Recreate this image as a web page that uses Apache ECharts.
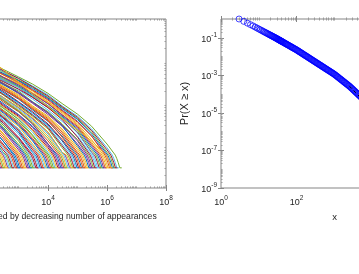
<!DOCTYPE html>
<html><head><meta charset="utf-8">
<script src="https://cdn.jsdelivr.net/npm/echarts@6/dist/echarts.min.js"></script>
<style>html,body{margin:0;padding:0;background:#fff}#c{width:359px;height:274px}</style>
</head><body><div id="c"></div>
<script>
// ---------- Left panel: rank / number-of-appearances curves ----------
const leftXName = 'Hashtags ordered by decreasing number of appearances';
const rightXName = 'x';
const rightYName = 'Pr(X \u2265 x)';
const rankGrid = [10, 30, 100, 300, 1e3, 3e3, 1e4, 3e4, 1e5, 3e5, 1e6, 3e6];
const plateauLevels = [6, 5, 4, 3];
// counts of each curve at rankGrid (starting at rank 10)
const curveCounts = [
 [52,24,9],[56,30,11],[60,33,14],[75,37,17],[79,43,21,7],[86,50,26,9],
 [104,55,28,11],[110,64,33,13],[131,70,38,17],[138,80,44,20,7],[162,88,49,25,9],
 [170,101,57,28,11],[200,110,62,34,14],[210,128,70,38,16],[248,140,78,45,21,7],
 [258,160,88,49,25,9],[295,172,101,55,29,11],[300,197,110,64,33,14],[350,212,127,70,38,17],
 [355,245,140,80,43,21,7],[410,258,160,88,50,24,9],[420,292,172,101,55,29,11],
 [480,305,197,110,64,33,13],[490,345,212,127,70,38,17],[565,360,243,140,80,44,21,7],
 [575,405,260,160,88,50,25,9],[660,420,292,172,101,55,29,11],[680,475,305,197,110,64,33,14],
 [775,495,345,212,127,70,38,17],[800,560,360,243,140,80,44,21,7],[910,580,405,260,160,88,50,25,9],
 [940,655,420,292,172,101,55,29,11],[1070,680,475,305,197,110,64,33,14],[1100,770,495,345,212,127,70,38,17],
 [1255,800,560,360,243,140,80,44,21,7],[1300,905,580,405,260,160,88,50,25,9],
 [1470,940,655,420,292,172,101,55,29,11],[1530,1060,680,475,305,197,110,64,33,14],
 [1730,1100,770,495,345,212,127,70,38,17],[1790,1250,800,560,360,243,140,80,44,21,7],
 [2030,1300,905,580,405,260,160,88,50,25,9],
 [2400,1500,930,600,390,250,150,84,47,23,8],[1400,1000,740,520,350,228,134,76,42,19],
 [1700,1120,740,480,320,205,120,67,36,17],[1300,900,620,420,290,180,106,60,31,12],
 [1500,980,640,420,275,170,98,53,27,10],[1100,800,560,380,250,150,86,47,23,8],
 [1250,820,540,360,240,150,84,46,20],[980,700,480,330,220,140,80,42,16],
 [1000,660,430,280,180,108,60,30,10],[800,520,340,215,132,74,39,16],
 [520,350,230,140,82,46,21,7],[560,340,200,120,66,33,11],[330,220,135,78,42,18],
 [300,170,95,52,25,10],[180,110,64,35,15],[170,95,52,26,10],[95,52,27,10],[70,36,15],
 [53,27,10],[60,31,13],[75,41,19],[84,47,23,8],[106,60,31,13],[119,67,35,15],[133,75,41,19],
 [150,84,47,23,8],[184,106,60,31,13],[226,133,75,41,19],[251,150,84,47,23,8],
 [299,184,106,60,31,13],[324,204,119,67,35,15],[380,251,150,84,47,23,8],[412,275,166,94,53,27,10],
 [484,324,204,119,67,35,15],[525,351,226,133,75,41,19],[617,412,275,166,94,53,27,10],
 [668,447,299,184,106,60,31,13],[785,525,351,226,133,75,41,19],[851,569,380,251,150,84,47,23,8],
 [1000,668,447,299,184,106,60,31,13],
 [2138,1445,955,646,427,288,174,100,56,29,11],
 [4677,2400,1230,630,324,166,85,44,24,13]
];
// ranks where the last plateaus (counts 6,5,4,3) start/stop, and the curve's last rank
const curveTails = [
 [151,170,191,216,251],[191,214,240,272,316],[240,269,302,343,398],[302,339,380,432,501],
 [381,427,479,543,631],[479,537,603,684,794],[603,676,759,861,1000],[759,851,955,1084,1259],
 [956,1071,1203,1365,1585],[1203,1349,1514,1718,1995],[1515,1698,1907,2163,2512],
 [1907,2138,2400,2723,3162],[2400,2691,3022,3428,3981],[3022,3388,3804,4315,5012],
 [3805,4266,4789,5433,6310],[4790,5370,6029,6839,7943],[6030,6760,7590,8610,10000],
 [7590,8510,9550,10840,12590],[9560,10710,12030,13650,15850],[12030,13490,15140,17180,19950],
 [15150,16980,19070,21630,25120],[19070,21380,24000,27230,31620],[24000,26910,30220,34280,39810],
 [30220,33880,38040,43150,50120],[38050,42660,47890,54330,63100],[47900,53700,60290,68390,79430],
 [6.03e4,6.76e4,7.59e4,8.61e4,1e5],[7.59e4,8.51e4,9.55e4,1.084e5,1.259e5],
 [9.56e4,1.071e5,1.203e5,1.365e5,1.585e5],[1.203e5,1.349e5,1.514e5,1.718e5,1.995e5],
 [1.515e5,1.698e5,1.907e5,2.163e5,2.512e5],[1.907e5,2.138e5,2.4e5,2.723e5,3.162e5],
 [2.4e5,2.691e5,3.022e5,3.428e5,3.981e5],[3.022e5,3.388e5,3.804e5,4.315e5,5.012e5],
 [3.805e5,4.266e5,4.789e5,5.433e5,6.31e5],[4.79e5,5.37e5,6.029e5,6.839e5,7.943e5],
 [6.03e5,6.76e5,7.59e5,8.61e5,1e6],[7.59e5,8.51e5,9.55e5,1.084e6,1.259e6],
 [9.56e5,1.071e6,1.203e6,1.365e6,1.585e6],[1.203e6,1.349e6,1.514e6,1.718e6,1.995e6],
 [1.515e6,1.698e6,1.907e6,2.163e6,2.512e6],
 [1.35e6,1.51e6,1.7e6,1.93e6,2.24e6],[1.07e6,1.2e6,1.35e6,1.53e6,1.78e6],
 [8.5e5,9.55e5,1.07e6,1.22e6,1.41e6],[6.77e5,7.59e5,8.51e5,9.66e5,1.12e6],
 [5.37e5,6.02e5,6.76e5,7.67e5,8.91e5],[4.27e5,4.79e5,5.37e5,6.1e5,7.08e5],
 [3.39e5,3.8e5,4.27e5,4.84e5,5.62e5],[2.69e5,3.02e5,3.39e5,3.85e5,4.47e5],
 [1.7e5,1.91e5,2.14e5,2.43e5,2.82e5],[8.5e4,9.55e4,1.07e5,1.22e5,1.41e5],
 [4.27e4,4.79e4,5.37e4,6.1e4,7.08e4],[2.14e4,2.4e4,2.69e4,3.05e4,3.55e4],
 [1.07e4,1.2e4,1.35e4,1.53e4,1.78e4],[5370,6020,6760,7670,8910],[2690,3020,3390,3850,4470],
 [1700,1910,2140,2430,2820],[537,602,676,767,891],[269,302,339,385,447],
 [170,191,214,243,282],[214,240,269,305,355],[339,380,427,484,562],[427,479,537,610,708],
 [677,759,851,966,1122],[852,955,1072,1217,1413],[1072,1202,1350,1531,1778],
 [1350,1514,1699,1928,2239],[2140,2398,2693,3055,3548],[3391,3801,4268,4841,5623],
 [4269,4785,5373,6095,7079],[6770,7590,8510,9660,11220],[8520,9550,10720,12170,14130],
 [13500,15140,16990,19280,22390],[16990,19050,21390,24260,28180],[26940,30200,33900,38460,44670],
 [33910,38010,42680,48410,56230],[53750,60250,67650,76740,89130],
 [6.77e4,7.59e4,8.51e4,9.66e4,1.122e5],[1.072e5,1.202e5,1.35e5,1.531e5,1.778e5],
 [1.35e5,1.514e5,1.699e5,1.928e5,2.239e5],[2.14e5,2.398e5,2.693e5,3.055e5,3.548e5],
 [1.91e6,2.14e6,2.4e6,2.72e6,3.16e6],
 [9.56e5,1.071e6,1.203e6,1.365e6,1.585e6]
];
// ---------- Right panel: CCDF, [x, Pr(X >= x)] ----------
const ccdfPoints = [
 [3,1],[4,0.75],[5,0.60],[6,0.50],[7,0.43],[8,0.372],[9,0.328],[10,0.292],[11,0.265],[12,0.241],
 [13,0.221],[14,0.204],[15,0.190],[16,0.177],[17,0.166],[18,0.156],[19,0.147],[20,0.140],[21,0.132],
 [22,0.126],[23,0.120],[24,0.115],[25,0.110],[26,0.105],[27,0.101],[28,0.0973],[29,0.0935],[30,0.0898],
 [31,0.0865],[32,0.0834],[33,0.0803],[34,0.0778],[35,0.0752],[36,0.0729],[37,0.0706],[38,0.0684],
 [39,0.0664],[40,0.0645],[41,0.0627],[43,0.0594],[44,0.0578],[46,0.0549],[48,0.0524],[50,0.0499],
 [52,0.0477],[54,0.0457],[56,0.0439],[59,0.0412],[61,0.0397],[64,0.0376],[67,0.0357],[70,0.0339],
 [73,0.0323],[76,0.0308],[79,0.0294],[83,0.0279],[87,0.0264],[91,0.0251],[95,0.0239],[100,0.0225],
 [105,0.0211],[110,0.0199],[115,0.0187],[120,0.0177],[126,0.0167],[132,0.0157],[138,0.0148],
 [145,0.0139],[152,0.0130],[160,0.0122],[167,0.0115],[175,0.0109],[183,0.0103],[192,0.00964],
 [201,0.00908],[210,0.00857],[220,0.00807],[230,0.00762],[241,0.00716],[252,0.00677],[264,0.00635],
 [276,0.00601],[289,0.00566],[302,0.00535],[316,0.00504],[330,0.00476],[346,0.00448],[362,0.00422],
 [379,0.00397],[396,0.00376],[415,0.00354],[434,0.00334],[454,0.00315],[475,0.00296],[497,0.00280],
 [520,0.00264],[545,0.00248],[570,0.00234],[597,0.00220],[624,0.00208],[653,0.00196],[683,0.00185],
 [715,0.00175],[748,0.00164],[784,0.00155],[820,0.00146],[858,0.00138],[898,0.00130],[940,0.00122],
 [983,0.00115],[1030,0.00107],[1077,0.00100],[1128,0.000931],[1180,0.000865],[1235,0.000804],
 [1292,0.000748],[1353,0.000695],[1415,0.000646],[1482,0.000600],[1550,0.000560],[1623,0.000520],
 [1697,0.000483],[1778,0.000449],[1859,0.000419],[1947,0.000389],[2036,0.000361],[2133,0.000336],
 [2230,0.000313],[2336,0.000290],[2442,0.000270],[2558,0.000249],[2675,0.000230],[2802,0.000210],
 [2930,0.000193],[3069,0.000177],[3209,0.000163],[3361,0.000149],[3515,0.000136],[3681,0.000125],
 [3850,0.000115],[4032,0.000105],[4217,0.0000964],[4416,0.0000883],[4619,0.0000809],[4837,0.0000742],
 [5059,0.0000681],[5298,0.0000615],[5541,0.0000556],[6069,0.0000456],[7000,3.33e-5],[8500,2.18e-5],
 [10500,1.37e-5],[13000,8.5e-6],[16500,5.1e-6],[21000,2.97e-6],[27000,1.71e-6],[35000,1e-6],
 [45000,5.5e-7],[60000,2.75e-7],[80000,1.38e-7],[110000,6.5e-8]
];
const fitX = [2500, 100000];
const fitP = [2.6e-4, 1.2e-7];
// tick exponents
const leftXMajor = [0,2,4,6,8];
const leftYMajor = [0,1,2,3,4];
const rightXMajor = [0,2,4,6];
const rightYMajor = [-9,-7,-5,-3,-1];

const matlabColors = ['#0072BD','#D95319','#EDB120','#7E2F8E','#77AC30','#4DBEEE','#A2142F'];
const FONT = 'Liberation Sans, Arial, Helvetica, sans-serif';
const TXT = '#262626';
const AX = '#858585';
const AXMINOR = '#9a9a9a';

function curveData(counts, tail) {
  const pts = counts.map((v, i) => [rankGrid[i], v]);
  pts.push([tail[0], plateauLevels[0]]);
  for (let k = 0; k < plateauLevels.length; k++) {
    pts.push([tail[k + 1], plateauLevels[k]]);
    if (k + 1 < plateauLevels.length) pts.push([tail[k + 1], plateauLevels[k + 1]]);
  }
  return pts;
}
function minorTicks(lo, hi, majors) {
  const out = [];
  for (let k = lo; k < hi; k++) for (let m = 2; m <= 10; m++) {
    const v = k + Math.log10(m);
    if (!majors.some(x => Math.abs(x - v) < 1e-6)) out.push(v);
  }
  return out;
}
const rich = {
  b: {fontSize: 9, fontFamily: FONT, color: TXT, verticalAlign: 'bottom', lineHeight: 12},
  s: {fontSize: 6.5, fontFamily: FONT, color: TXT, verticalAlign: 'top', lineHeight: 8}
};
function powLabel(v) { const e = Math.round(Math.log10(v)); return '{b|10}{s|' + e + '}'; }
function powLabelNoTop(v) { const e = Math.round(Math.log10(v)); return e === 0 ? '' : '{b|10}{s|' + e + '}'; }

function tickAxis(gridIndex, position, min, max, values, len, color) {
  return {gridIndex, type: 'value', position, min, max,
    axisLine: {show: false}, splitLine: {show: false}, axisLabel: {show: false},
    axisTick: {show: true, inside: true, length: len, customValues: values, lineStyle: {color, width: 1}}};
}

const GT = 19, GH = 169;
const grids = [
  {left: -70, top: GT, width: 236, height: GH, show: true, borderColor: AX, borderWidth: 1, backgroundColor: 'transparent', containLabel: false, outerBoundsMode: 'none'},
  {left: 221, top: GT, width: 227, height: GH, show: true, borderColor: AX, borderWidth: 1, backgroundColor: 'transparent', containLabel: false, outerBoundsMode: 'none'}
];
const nameStyle = {fontSize: 8.6, fontFamily: FONT, color: TXT};

const xAxes = [
  {gridIndex: 0, type: 'log', min: 1, max: 1e8, interval: 2, position: 'bottom',
   axisLine: {show: false}, axisTick: {show: false}, splitLine: {show: false},
   axisLabel: {formatter: powLabel, rich, margin: 7},
   name: leftXName, nameLocation: 'middle', nameGap: 23, nameTextStyle: nameStyle},
  {gridIndex: 1, type: 'log', min: 1, max: 1e6, interval: 2, position: 'bottom',
   axisLine: {show: false}, axisTick: {show: false}, splitLine: {show: false},
   axisLabel: {formatter: powLabel, rich, margin: 7},
   name: rightXName, nameLocation: 'middle', nameGap: 23, nameTextStyle: {fontSize: 9.5, fontFamily: FONT, color: TXT}},
  tickAxis(0, 'bottom', 0, 8, leftXMajor, 3, AX),
  tickAxis(0, 'bottom', 0, 8, minorTicks(0, 8, leftXMajor), 1.5, AXMINOR),
  tickAxis(0, 'top', 0, 8, leftXMajor, 3, AX),
  tickAxis(0, 'top', 0, 8, minorTicks(0, 8, leftXMajor), 1.5, AXMINOR),
  tickAxis(1, 'bottom', 0, 6, rightXMajor, 3, AX),
  tickAxis(1, 'bottom', 0, 6, minorTicks(0, 6, rightXMajor), 1.5, AXMINOR),
  tickAxis(1, 'top', 0, 6, rightXMajor, 3, AX),
  tickAxis(1, 'top', 0, 6, minorTicks(0, 6, rightXMajor), 1.5, AXMINOR)
];
const yAxes = [
  {gridIndex: 0, type: 'log', min: 1, max: 1e4, interval: 1, position: 'left',
   axisLine: {show: false}, axisTick: {show: false}, splitLine: {show: false},
   axisLabel: {formatter: powLabel, rich, margin: 4}},
  {gridIndex: 1, type: 'log', min: 1e-9, max: 1, interval: 2, position: 'left',
   axisLine: {show: false}, axisTick: {show: false}, splitLine: {show: false},
   axisLabel: {formatter: powLabelNoTop, rich, margin: 4},
   name: rightYName, nameLocation: 'middle', nameRotate: 90, nameGap: 25,
   nameTextStyle: {fontSize: 11, fontFamily: FONT, color: TXT}},
  tickAxis(0, 'left', 0, 4, leftYMajor, 3, AX),
  tickAxis(0, 'left', 0, 4, minorTicks(0, 4, leftYMajor), 1.5, AXMINOR),
  tickAxis(0, 'right', 0, 4, leftYMajor, 3, AX),
  tickAxis(0, 'right', 0, 4, minorTicks(0, 4, leftYMajor), 1.5, AXMINOR),
  tickAxis(1, 'left', -9, 0, rightYMajor, 3, AX),
  tickAxis(1, 'left', -9, 0, minorTicks(-9, 0, rightYMajor), 1.5, AXMINOR),
  tickAxis(1, 'right', -9, 0, rightYMajor, 3, AX),
  tickAxis(1, 'right', -9, 0, minorTicks(-9, 0, rightYMajor), 1.5, AXMINOR)
];

const series = [];
const nC = curveCounts.length;
curveCounts.forEach((counts, i) => {
  let color = matlabColors[i % matlabColors.length];
  if (i === nC - 2) color = '#77AC30';
  if (i === nC - 1) color = '#EDB120';
  series.push({type: 'line', xAxisIndex: 0, yAxisIndex: 0, data: curveData(counts, curveTails[i]),
    symbol: 'none', showSymbol: false, silent: true, clip: true,
    lineStyle: {width: 1, color}});
});
series.push({type: 'scatter', xAxisIndex: 1, yAxisIndex: 1,
  data: ccdfPoints, symbol: 'circle', symbolSize: 6, silent: true, clip: true,
  itemStyle: {color: 'rgba(0,0,0,0)', borderColor: '#0000FF', borderWidth: 0.9}});
series.push({type: 'line', xAxisIndex: 1, yAxisIndex: 1,
  data: fitX.map((x, i) => [x, fitP[i]]), symbol: 'none', silent: true, clip: true,
  lineStyle: {width: 1, color: '#000', type: [3, 3]}});

const chart = echarts.init(document.getElementById('c'), null, {renderer: 'canvas', width: 359, height: 274});
chart.setOption({animation: false, backgroundColor: '#fff', grid: grids, xAxis: xAxes, yAxis: yAxes, series});
</script></body></html>
